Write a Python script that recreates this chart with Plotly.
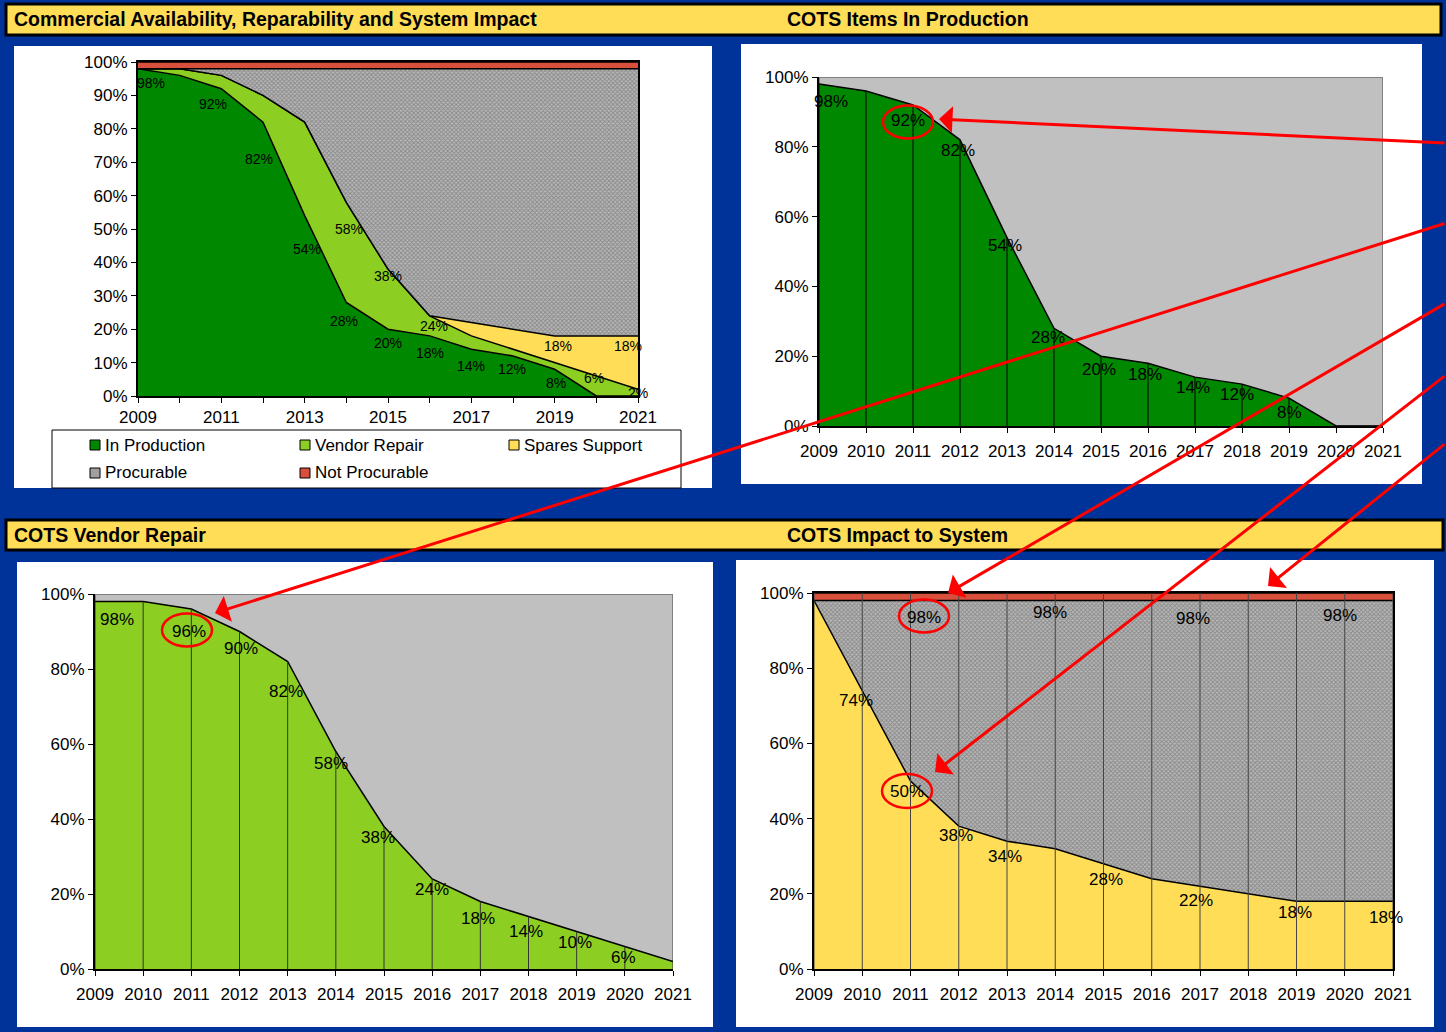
import plotly.graph_objects as go

W, H = 1446, 1032
FONT = "Liberation Sans, Arial, sans-serif"

# ---- data (percent of COTS items) ----
years = [2009, 2010, 2011, 2012, 2013, 2014, 2015, 2016, 2017, 2018, 2019, 2020, 2021]
in_production = [98, 96, 92, 82, 54, 28, 20, 18, 14, 12, 8, 0, 0]
vendor_repair = [98, 98, 96, 90, 82, 58, 38, 24, 18, 14, 10, 6, 2]
system_impact = [98, 74, 50, 38, 34, 32, 28, 24, 22, 20, 18, 18, 18]
procurable = [98, 98, 98, 98, 98, 98, 98, 98, 98, 98, 98, 98, 98]
all_items = [100, 100, 100, 100, 100, 100, 100, 100, 100, 100, 100, 100, 100]

# spares support fills the gap where system impact stays above vendor repair
spares_top = [max(v, s) for v, s in zip(vendor_repair, system_impact)]

series = {
    "prod": in_production,
    "vendor": vendor_repair,
    "spares": spares_top,
    "impact": system_impact,
    "proc": procurable,
}

# ---- styling ----
BLUE = "#003399"
GREEN = "#008800"
LIME = "#8ccf22"
YELLOW = "#ffdd57"
RED = "#d8503c"
GRAY = "#c0c0c0"
HATCH = dict(shape="x", size=3, solidity=0.5, fgcolor="#5a5a5a", bgcolor="#b8b8b8")
OUTLINE = dict(color="black", width=1.5)


def fx(x):
    return x / W


def fy(y):
    return 1 - y / H


# plot-area boxes in pixels: left, top, right, bottom
boxes = {
    "": (138, 62, 638, 396),
    "2": (819, 77, 1383, 426),
    "3": (95, 594, 673, 969),
    "4": (814, 593, 1393, 969),
}

fig = go.Figure()


def area(ax, y, fill, color, pattern=None):
    kw = dict(fillpattern=pattern) if pattern else {}
    fig.add_trace(go.Scatter(
        x=years, y=y, xaxis="x" + ax, yaxis="y" + ax, mode="lines",
        line=OUTLINE, fill=fill, fillcolor=color, hoverinfo="skip",
        showlegend=False, **kw))


def drop_lines(ax, tops, color):
    xs, ys = [], []
    for yr, t in zip(years, tops):
        xs += [yr, yr, None]
        ys += [0, t, None]
    fig.add_trace(go.Scatter(
        x=xs, y=ys, xaxis="x" + ax, yaxis="y" + ax, mode="lines",
        line=dict(color=color, width=1), hoverinfo="skip", showlegend=False))


# Commercial availability overview (stacked)
area("", in_production, "tozeroy", GREEN)
area("", vendor_repair, "tonexty", LIME)
area("", spares_top, "tonexty", YELLOW)
area("", procurable, "tonexty", "#a8a8a8", HATCH)
area("", all_items, "tonexty", RED)

# Items in production
area("2", in_production, "tozeroy", GREEN)
drop_lines("2", in_production, "black")

# Vendor repair
area("3", vendor_repair, "tozeroy", LIME)
drop_lines("3", vendor_repair, "#333333")

# Impact to system
area("4", system_impact, "tozeroy", YELLOW)
area("4", procurable, "tonexty", "#a8a8a8", HATCH)
area("4", all_items, "tonexty", RED)
drop_lines("4", all_items, "#444444")

# ---- axes ----
tick_font = dict(family=FONT, size=17, color="black")
layout_axes = {}
for ax, (l, t, r, b) in boxes.items():
    mirror = ax in ("", "4")
    if ax == "":
        tt = [str(y) if (y - 2009) % 2 == 0 else "" for y in years]
        yv = list(range(0, 101, 10))
        xstand = 0
    else:
        tt = [str(y) for y in years]
        yv = list(range(0, 101, 20))
        xstand = 4
    layout_axes["xaxis" + ax] = dict(
        domain=[fx(l), fx(r)], anchor="y" + ax, range=[2009, 2021],
        tickvals=years, ticktext=tt, ticks="outside", ticklen=5, tickcolor="black",
        ticklabelstandoff=xstand,
        showline=True, linecolor="black", linewidth=2, mirror=mirror,
        showgrid=False, zeroline=False, tickfont=tick_font, fixedrange=True)
    layout_axes["yaxis" + ax] = dict(
        domain=[fy(b), fy(t)], anchor="x" + ax, range=[0, 100],
        tickvals=yv, ticktext=[f"{v}%" for v in yv], ticks="outside", ticklen=5,
        tickcolor="black", showline=True, linecolor="black", linewidth=2,
        mirror=mirror, showgrid=False, zeroline=False, tickfont=tick_font,
        fixedrange=True)

# ---- shapes: background panels, title bars, plot areas, legend ----
shapes = []
panels = [(14, 46, 712, 488), (741, 44, 1422, 484), (17, 562, 713, 1027), (736, 560, 1434, 1027)]
for l, t, r, b in panels:
    shapes.append(dict(type="rect", xref="paper", yref="paper", x0=fx(l), x1=fx(r),
                       y0=fy(b), y1=fy(t), fillcolor="white", line=dict(width=0), layer="below"))
for l, t, r, b in [(6, 4, 1441, 35), (6, 520, 1443, 550)]:
    shapes.append(dict(type="rect", xref="paper", yref="paper", x0=fx(l), x1=fx(r),
                       y0=fy(b), y1=fy(t), fillcolor=YELLOW, line=dict(color="black", width=3),
                       layer="below"))
for ax in ("2", "3"):
    shapes.append(dict(type="rect", xref="x" + ax, yref="y" + ax, x0=2009, x1=2021, y0=0, y1=100,
                       fillcolor=GRAY, line=dict(color="#808080", width=2), layer="below"))

# legend box and swatches
shapes.append(dict(type="rect", xref="paper", yref="paper", x0=fx(52), x1=fx(681),
                   y0=fy(488), y1=fy(430), fillcolor="white", line=dict(color="black", width=1)))
legend_items = [
    ("In Production", GREEN, 90, 445),
    ("Vendor Repair", LIME, 300, 445),
    ("Spares Support", YELLOW, 509, 445),
    ("Procurable", "#a0a0a0", 90, 473),
    ("Not Procurable", RED, 300, 473),
]
annotations = []
for name, col, lx, ly in legend_items:
    shapes.append(dict(type="rect", xref="paper", yref="paper", x0=fx(lx), x1=fx(lx + 10),
                       y0=fy(ly + 5), y1=fy(ly - 5), fillcolor=col,
                       line=dict(color="black", width=1)))
    annotations.append(dict(xref="paper", yref="paper", x=fx(lx + 13), y=fy(ly), text=name,
                            showarrow=False, xanchor="left", yanchor="middle",
                            font=dict(family=FONT, size=17, color="black")))

# red call-out ellipses (pixel centre, radii)
for cx, cy, rx, ry in [(908, 122, 25, 16.5), (187, 630, 25, 16.5), (924, 616, 25, 16.5), (907, 791, 25, 17)]:
    shapes.append(dict(type="circle", xref="paper", yref="paper", x0=fx(cx - rx), x1=fx(cx + rx),
                       y0=fy(cy + ry), y1=fy(cy - ry), line=dict(color="#ff0000", width=2.5)))

# ---- titles ----
titles = [
    ("Commercial Availability, Reparability and System Impact", 12, 19),
    ("COTS Items In Production", 785, 19),
    ("COTS Vendor Repair", 12, 535),
    ("COTS Impact to System", 785, 535),
]
for text, tx, ty in titles:
    annotations.append(dict(xref="paper", yref="paper", x=fx(tx), y=fy(ty), text=f"<b>{text}</b>",
                            showarrow=False, xanchor="left", yanchor="middle",
                            font=dict(family=FONT, size=19.5, color="black")))

# ---- data labels: (axis, series, year, x offset in years, y offset in %) ----
label_specs = [
    ("", "prod", 2009, 0.3, -4.3), ("", "prod", 2011, -0.2, -4.6), ("", "prod", 2012, -0.1, -11),
    ("", "prod", 2013, 0.06, -10), ("", "prod", 2014, -0.06, -5.5), ("", "prod", 2015, 0, -4),
    ("", "prod", 2016, 0, -5), ("", "prod", 2017, 0, -5), ("", "prod", 2018, -0.02, -4),
    ("", "prod", 2019, 0.03, -4),
    ("", "vendor", 2014, 0.06, -8), ("", "vendor", 2015, 0, -2), ("", "vendor", 2016, 0.1, -3),
    ("", "vendor", 2020, -0.06, -0.6), ("", "vendor", 2021, 0, -1),
    ("", "spares", 2019, 0.07, -3), ("", "spares", 2021, -0.24, -3),
    ("2", "prod", 2009, 0.26, -4.9), ("2", "prod", 2011, -0.1, -4.6), ("2", "prod", 2012, -0.04, -3.2),
    ("2", "prod", 2013, -0.04, -2.4), ("2", "prod", 2014, -0.13, -2.5), ("2", "prod", 2015, -0.04, -3.7),
    ("2", "prod", 2016, -0.06, -3.1), ("2", "prod", 2017, -0.04, -3.1), ("2", "prod", 2018, -0.1, -3.1),
    ("2", "prod", 2019, 0, -4),
    ("3", "vendor", 2009, 0.46, -4.7), ("3", "vendor", 2011, -0.05, -5.9), ("3", "vendor", 2012, 0.03, -4.4),
    ("3", "vendor", 2013, -0.03, -7.9), ("3", "vendor", 2014, -0.1, -3.1), ("3", "vendor", 2015, -0.13, -2.8),
    ("3", "vendor", 2016, 0, -2.7), ("3", "vendor", 2017, -0.05, -4.4), ("3", "vendor", 2018, -0.05, -3.9),
    ("3", "vendor", 2019, -0.03, -2.8), ("3", "vendor", 2020, -0.02, -2.8),
    ("4", "impact", 2010, -0.13, -2.7), ("4", "impact", 2011, -0.07, -2.9), ("4", "impact", 2012, -0.06, -2.6),
    ("4", "impact", 2013, -0.04, -4.2), ("4", "impact", 2015, 0.05, -4.3), ("4", "impact", 2017, -0.08, -3.9),
    ("4", "impact", 2019, -0.03, -3.1), ("4", "impact", 2021, -0.15, -4.2),
    ("4", "proc", 2011, 0.28, -4.4), ("4", "proc", 2014, -0.1, -3.3), ("4", "proc", 2017, -0.15, -4.9),
    ("4", "proc", 2020, -0.1, -3.9),
]
for ax, key, yr, dx, dy in label_specs:
    v = series[key][years.index(yr)]
    annotations.append(dict(xref="x" + ax, yref="y" + ax, x=yr + dx, y=v + dy, text=f"{v}%",
                            showarrow=False, xanchor="center", yanchor="middle",
                            font=dict(family=FONT, size=14 if ax == "" else 17, color="black")))

# ---- red arrows from the right edge: (tail y at right edge, head x, head y) ----
for tail_y, hx, hy in [(143, 939, 119), (223, 215, 613), (303, 948, 593), (375, 935, 772), (443, 1268, 586)]:
    annotations.append(dict(xref="paper", yref="paper", x=fx(hx), y=fy(hy), ax=W - hx, ay=tail_y - hy,
                            text="", showarrow=True, arrowhead=1, arrowsize=1.5, arrowwidth=3,
                            arrowcolor="#ff0000"))

fig.update_layout(
    width=W, height=H, autosize=False,
    margin=dict(l=0, r=0, t=0, b=0, pad=0, autoexpand=False),
    paper_bgcolor=BLUE, plot_bgcolor="rgba(0,0,0,0)",
    font=dict(family=FONT, color="black"),
    showlegend=False,
    shapes=shapes, annotations=annotations,
    **layout_axes,
)

fig.write_html("out.html")
